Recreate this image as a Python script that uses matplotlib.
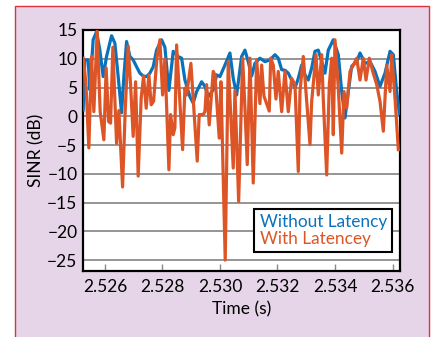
import matplotlib
matplotlib.use("Agg")
import matplotlib.pyplot as plt
from matplotlib.patches import Rectangle

plt.rcParams['font.family'] = ['Lato', 'DejaVu Sans']

# Without latency (blue) - time (s) and SINR (dB)
time_wo = [2.525245, 2.525304, 2.525419, 2.525478, 2.525530, 2.525593, 2.525711, 2.525826,
           2.525941, 2.526059, 2.526233, 2.526348, 2.526463, 2.526581, 2.526661, 2.526755,
           2.526870, 2.526984, 2.527103, 2.527217, 2.527332, 2.527450, 2.527565, 2.527680,
           2.527798, 2.527972, 2.528087, 2.528226, 2.528376, 2.528539, 2.528668, 2.528783,
           2.528957, 2.529071, 2.529190, 2.529364, 2.529478, 2.529593, 2.529767, 2.529885,
           2.530000, 2.530174, 2.530348, 2.530463, 2.530581, 2.530755, 2.530870, 2.530984,
           2.531103, 2.531217, 2.531391, 2.531565, 2.531739, 2.531913, 2.532028, 2.532146,
           2.532261, 2.532376, 2.532494, 2.532609, 2.532724, 2.532842, 2.532957, 2.533071,
           2.533190, 2.533304, 2.533419, 2.533538, 2.533652, 2.533767, 2.533941, 2.534115,
           2.534233, 2.534348, 2.534463, 2.534581, 2.534755, 2.534870, 2.535044, 2.535218,
           2.535391, 2.535565, 2.535739, 2.535913, 2.536028, 2.536146, 2.536237]
sinr_wo = [1.1, 9.8, 9.8, 4.6, 8.4, 13.3, 14.7, 11.5,
           6.9, 10.4, 14.0, 12.7, 6.9, 0.6, 6.9, 13.0,
           10.4, 9.8, 8.6, 7.5, 7.0, 6.9, 7.5, 8.6,
           11.5, 13.3, 12.0, 4.5, 11.3, 10.4, 10.1, 6.3,
           3.4, 2.3, 4.3, 6.0, 5.2, 3.4, 4.6, 7.2,
           6.9, 8.9, 11.0, 6.6, 3.7, 10.4, 11.5, 9.5,
           7.0, 9.2, 10.1, 9.5, 9.8, 10.7, 10.1, 8.1,
           8.0, 7.5, 6.3, 4.9, 6.6, 8.9, 7.2, 6.3,
           8.4, 11.3, 11.5, 9.5, 7.5, 11.5, 13.3, 10.7,
           4.3, -0.3, 4.3, 8.7, 9.5, 11.0, 9.2, 9.5,
           7.8, 5.2, 7.5, 11.3, 10.7, 4.3, 0.5]

# With latency (orange)
time_w = [2.525245, 2.525339, 2.525443, 2.525537, 2.525617, 2.525732, 2.525837, 2.525965,
          2.526045, 2.526129, 2.526198, 2.526278, 2.526407, 2.526487, 2.526616, 2.526706,
          2.526810, 2.526894, 2.526984, 2.527068, 2.527158, 2.527263, 2.527346, 2.527437,
          2.527530, 2.527610, 2.527694, 2.527809, 2.527913, 2.528007, 2.528087, 2.528226,
          2.528285, 2.528376, 2.528435, 2.528494, 2.528703, 2.528783, 2.528842, 2.528991,
          2.529211, 2.529280, 2.529419, 2.529478, 2.529537, 2.529628, 2.529767, 2.529826,
          2.529976, 2.530035, 2.530184, 2.530289, 2.530463, 2.530522, 2.530651, 2.530790,
          2.530870, 2.530950, 2.531044, 2.531158, 2.531277, 2.531391, 2.531451, 2.531531,
          2.531715, 2.531764, 2.531854, 2.531948, 2.532028, 2.532146, 2.532261, 2.532376,
          2.532494, 2.532609, 2.532724, 2.532783, 2.532898, 2.533131, 2.533190, 2.533339,
          2.533419, 2.533538, 2.533593, 2.533711, 2.533802, 2.533885, 2.533941, 2.534000,
          2.534115, 2.534233, 2.534313, 2.534407, 2.534522, 2.534637, 2.534755, 2.534870,
          2.534984, 2.535078, 2.535193, 2.535311, 2.535451, 2.535565, 2.535680, 2.535798,
          2.535913, 2.535972, 2.536087, 2.536202]
sinr_w = [10.1, 6.0, -5.5, 10.4, 0.8, 14.8, 0.8, -4.1,
          8.4, -0.9, -1.2, 12.0, -4.7, 1.0, -12.3, 0.8,
          12.2, 5.5, -3.5, 6.0, -10.4, 3.2, 7.0, 1.4,
          7.2, 2.0, 2.6, 10.1, 13.3, 3.7, 10.0, -9.3,
          0.3, -3.2, -2.0, 12.4, -5.8, 4.9, 3.7, 9.2,
          -7.8, 0.3, 0.3, 0.8, 5.5, -1.5, 7.8, 7.2,
          -3.8, 6.0, -25.0, 9.5, -9.0, 4.5, -14.8, 10.1,
          1.4, -8.4, 10.1, -11.6, 9.8, 2.2, 8.9, 3.5,
          0.9, 10.1, 8.9, 3.0, 7.8, 0.8, 7.8, 0.8,
          6.6, 5.5, -9.6, 4.3, 10.4, -4.9, 2.6, 10.7,
          3.7, 10.7, 3.0, -10.2, 5.5, 10.1, -3.2, 13.3,
          4.9, -6.4, 4.3, 1.4, 7.8, 8.9, 10.1, 6.3,
          10.1, 6.3, 10.1, 7.8, 5.5, 2.6, -2.6, 8.9,
          4.3, 10.7, 3.1, -5.8]

xticks = [2.526, 2.528, 2.530, 2.532, 2.534, 2.536]
yticks = [-25, -20, -15, -10, -5, 0, 5, 10, 15]

blue = '#0A72BA'
orange = '#DD5526'

fig = plt.figure(figsize=(4.34, 3.37), dpi=100)
fig.patch.set_facecolor('white')
# lavender panel with red frame (open at the bottom)
panel = Rectangle((15 / 434, -0.05), 414 / 434, 1.05 - 6 / 337,
                  transform=fig.transFigure, facecolor='#E6D5E8',
                  edgecolor='#E0323C', linewidth=1.0, zorder=-10)
fig.add_artist(panel)

ax = fig.add_axes([83 / 434, 66 / 337, 317 / 434, 241 / 337])
ax.set_facecolor('white')

ax.plot(time_wo, sinr_wo, color=blue, lw=2.3, solid_joinstyle='round', zorder=3,
        label='Without Latency')
ax.plot(time_w, sinr_w, color=orange, lw=2.3, solid_joinstyle='round', zorder=4,
        label='With Latencey')

ax.set_xlim(2.52524, 2.53626)
ax.set_ylim(-26.9, 15)
ax.set_xticks(xticks)
ax.set_xticklabels(['%.3f' % t for t in xticks])
ax.set_yticks(yticks)
ax.yaxis.grid(True, color='#8C8C8C', lw=1.3)
ax.set_axisbelow(True)

ax.tick_params(axis='x', direction='in', length=5, width=1, color='#888888',
               labelsize=12.5, pad=6)
ax.tick_params(axis='y', length=0, labelsize=12.5, pad=4)
for s in ax.spines.values():
    s.set_linewidth(1.6)
    s.set_color('black')

ax.set_xlabel('Time (s)', fontsize=12.5, labelpad=4)
ax.set_ylabel('SINR (dB)', fontsize=12.5, labelpad=2)

leg = ax.legend(loc='lower right', bbox_to_anchor=(0.975, 0.079), borderaxespad=0,
                handlelength=0, handletextpad=0, fontsize=12.4, fancybox=False,
                framealpha=1, edgecolor='black', borderpad=0.3, labelspacing=0.05)
leg.get_frame().set_linewidth(1.5)
for h in leg.legend_handles:
    h.set_visible(False)
for txt, c in zip(leg.get_texts(), [blue, orange]):
    txt.set_color(c)

fig.savefig('out.png', dpi=100)
